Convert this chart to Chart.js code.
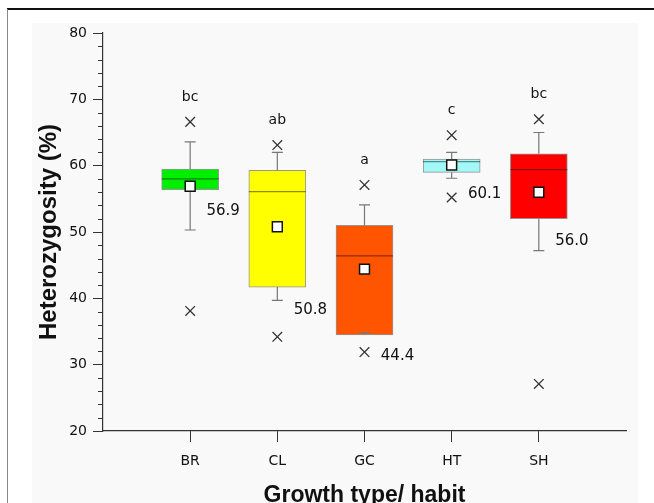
<!DOCTYPE html>
<html lang="en">
<head>
    <meta charset="UTF-8">
    <title>Heterozygosity by growth type</title>
    <script src="https://cdn.jsdelivr.net/npm/chart.js"></script>
    <style>
        html, body { margin: 0; padding: 0; background: #fff; }
    </style>
</head>
<body>
    <canvas id="boxChart" width="654" height="503"></canvas>

    <script>
        // Box plot values
        const categories = ['BR', 'CL', 'GC', 'HT', 'SH'];
        const q1 = [56.4, 41.7, 34.5, 59.0, 52.0];
        const q3 = [59.5, 59.3, 51.0, 61.0, 61.8];
        const medians = [58.0, 56.1, 46.4, 60.6, 59.4];
        const means = [56.9, 50.8, 44.4, 60.1, 56.0];
        const whiskerLow = [50.3, 39.7, 34.8, 58.1, 47.2];
        const whiskerHigh = [63.6, 62.0, 54.1, 62.0, 65.0];
        const outlierHigh = [66.6, 63.1, 57.1, 64.6, 67.0];
        const outlierLow = [38.1, 34.2, 31.9, 55.2, 27.1];
        const groupLetters = ['bc', 'ab', 'a', 'c', 'bc'];
        const yMin = 20, yMax = 80, yStep = 10;

        // where the mean value labels sit (in y units)
        const meanLabelAt = [53.2, 38.3, 31.3, 55.7, 48.7];

        const boxColors = ['#00ee00', '#ffff00', '#ff5500', '#a2f7f7', '#ff0000'];

        // empty slots at both ends so the axis runs 0..6
        const labels = [''].concat(categories, ['']);
        const pad = arr => [null].concat(arr, [null]);

        const FONT = '"DejaVu Sans", Verdana, sans-serif';
        const TITLE_FONT = '"Liberation Sans", Arial, sans-serif';

        const boxExtras = {
            id: 'boxExtras',
            beforeDraw(chart) {
                const c = chart.ctx;
                c.save();
                c.fillStyle = '#ffffff';
                c.fillRect(0, 0, chart.width, chart.height);
                c.fillStyle = '#f9f9f9';
                c.fillRect(32, 23, 606, chart.height - 23);
                c.strokeStyle = '#111';
                c.lineWidth = 2;
                c.beginPath();
                c.moveTo(7, 9); c.lineTo(chart.width, 9);
                c.stroke();
                c.strokeStyle = '#888';
                c.lineWidth = 1;
                c.beginPath();
                c.moveTo(7.5, 9); c.lineTo(7.5, chart.height);
                c.stroke();
                c.restore();
            },
            afterDatasetDraw(chart, args) {
                if (args.index !== 0) return;
                const c = chart.ctx;
                const x = chart.scales.x, y = chart.scales.y;
                c.save();
                categories.forEach((cat, i) => {
                    const px = x.getPixelForValue(i + 1);
                    // whiskers
                    c.strokeStyle = '#777';
                    c.lineWidth = 1.2;
                    c.beginPath();
                    c.moveTo(px, y.getPixelForValue(q3[i]));
                    c.lineTo(px, y.getPixelForValue(whiskerHigh[i]));
                    c.moveTo(px - 5.5, y.getPixelForValue(whiskerHigh[i]));
                    c.lineTo(px + 5.5, y.getPixelForValue(whiskerHigh[i]));
                    c.moveTo(px, y.getPixelForValue(q1[i]));
                    c.lineTo(px, y.getPixelForValue(whiskerLow[i]));
                    c.moveTo(px - 5.5, y.getPixelForValue(whiskerLow[i]));
                    c.lineTo(px + 5.5, y.getPixelForValue(whiskerLow[i]));
                    c.stroke();
                    // median
                    c.strokeStyle = 'rgba(0,0,0,0.45)';
                    c.lineWidth = 1.2;
                    c.beginPath();
                    c.moveTo(px - 28.5, y.getPixelForValue(medians[i]));
                    c.lineTo(px + 28.5, y.getPixelForValue(medians[i]));
                    c.stroke();
                });
                c.restore();
            },
            afterDraw(chart) {
                const c = chart.ctx;
                const x = chart.scales.x, y = chart.scales.y;
                c.save();
                // minor ticks on y axis
                c.strokeStyle = '#333';
                c.lineWidth = 1;
                c.beginPath();
                for (let v = yMin; v <= yMax; v += 2) {
                    if (v % yStep === 0) continue;
                    const py = Math.round(y.getPixelForValue(v)) + 0.5;
                    c.moveTo(chart.chartArea.left - 5, py);
                    c.lineTo(chart.chartArea.left, py);
                }
                c.stroke();
                // group letters and mean labels
                c.fillStyle = '#111';
                c.textBaseline = 'middle';
                c.textAlign = 'center';
                categories.forEach((cat, i) => {
                    const px = x.getPixelForValue(i + 1);
                    c.font = '14px ' + FONT;
                    c.fillText(groupLetters[i], px, y.getPixelForValue(outlierHigh[i] + 3.7));
                    c.font = '15px ' + FONT;
                    c.fillText(means[i].toFixed(1), px + 33, y.getPixelForValue(meanLabelAt[i]));
                });
                c.restore();
            }
        };

        new Chart(document.getElementById('boxChart'), {
            type: 'bar',
            data: {
                labels: labels,
                datasets: [
                    {
                        label: 'IQR',
                        data: pad(q1.map((v, i) => [v, q3[i]])),
                        backgroundColor: pad(boxColors),
                        borderColor: 'rgba(0,0,0,0.4)',
                        borderWidth: 1,
                        borderSkipped: false,
                        barThickness: 57,
                        order: 3
                    },
                    {
                        type: 'line',
                        label: 'Mean',
                        data: pad(means),
                        showLine: false,
                        pointStyle: 'rect',
                        pointRadius: 7,
                        pointBackgroundColor: '#ffffff',
                        pointBorderColor: '#111',
                        pointBorderWidth: 1.5,
                        order: 0
                    },
                    {
                        type: 'line',
                        label: 'Max',
                        data: pad(outlierHigh),
                        showLine: false,
                        pointStyle: 'crossRot',
                        pointRadius: 6.8,
                        pointBorderColor: '#333',
                        pointBorderWidth: 1.3,
                        order: 1
                    },
                    {
                        type: 'line',
                        label: 'Min',
                        data: pad(outlierLow),
                        showLine: false,
                        pointStyle: 'crossRot',
                        pointRadius: 6.8,
                        pointBorderColor: '#333',
                        pointBorderWidth: 1.3,
                        order: 1
                    }
                ]
            },
            options: {
                responsive: false,
                animation: false,
                layout: { padding: { left: 35, right: 28, top: 33, bottom: 0 } },
                plugins: {
                    legend: { display: false },
                    tooltip: { enabled: false }
                },
                scales: {
                    x: {
                        offset: false,
                        grid: {
                            offset: false,
                            drawOnChartArea: false,
                            tickLength: 11,
                            tickColor: ctx => (ctx.index === 0 || ctx.index === labels.length - 1) ? 'rgba(0,0,0,0)' : '#333'
                        },
                        border: { color: '#333', width: 1.2 },
                        ticks: { color: '#111', font: { family: FONT, size: 14 }, padding: 11, autoSkip: false, maxRotation: 0 },
                        title: {
                            display: true,
                            text: 'Growth type/ habit',
                            color: '#111',
                            font: { family: TITLE_FONT, size: 23, weight: 'bold', lineHeight: 0.6 },
                            padding: 0
                        },
                        afterFit: scale => { scale.height = 72; }
                    },
                    y: {
                        min: yMin,
                        max: yMax,
                        grid: { drawOnChartArea: false, tickLength: 10, tickColor: '#333' },
                        border: { color: '#333', width: 1.2 },
                        ticks: { stepSize: yStep, color: '#111', font: { family: FONT, size: 14 }, padding: 6 },
                        title: {
                            display: true,
                            text: 'Heterozygosity (%)',
                            color: '#111',
                            font: { family: TITLE_FONT, size: 24, weight: 'bold' },
                            padding: 0
                        },
                        afterFit: scale => { scale.width = 68; }
                    }
                }
            },
            plugins: [boxExtras]
        });
    </script>
</body>
</html>
